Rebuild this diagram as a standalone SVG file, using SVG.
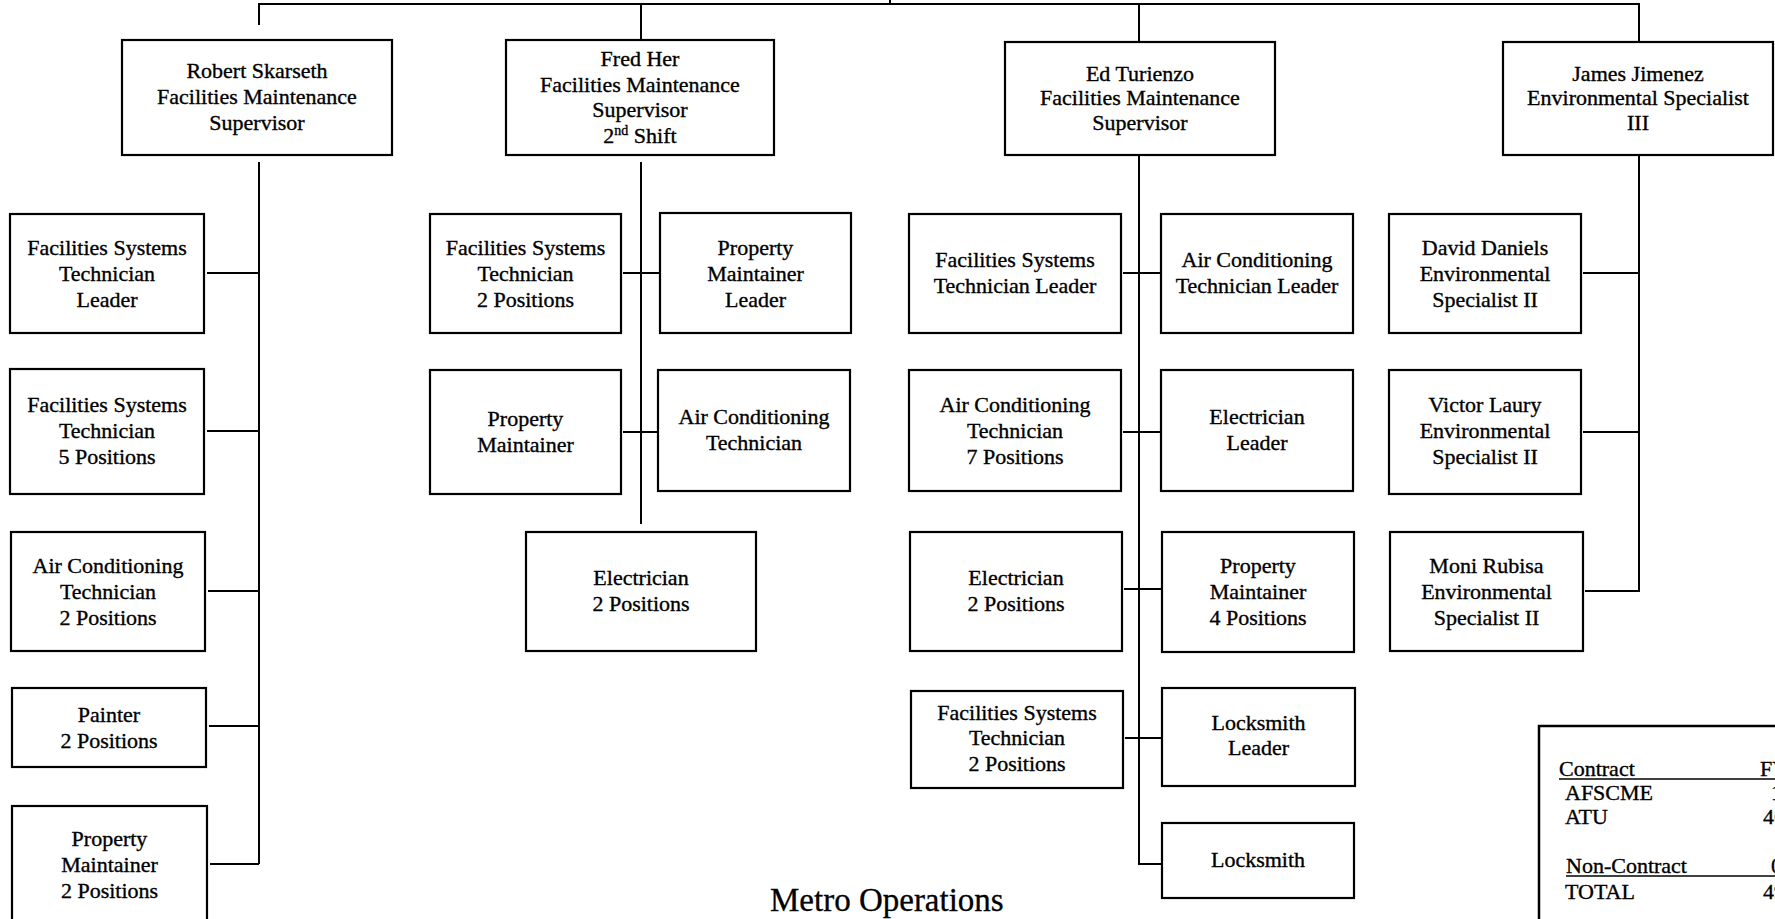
<svg xmlns="http://www.w3.org/2000/svg" width="1775" height="919" viewBox="0 0 1775 919">
<style>
.bx{fill:#fff;stroke:#000;stroke-width:2.2}
.t{font-family:"Liberation Serif","Times New Roman",serif;font-size:22px;fill:#000;stroke:#000;stroke-width:0.35;text-anchor:middle}
.lg{font-family:"Liberation Serif","Times New Roman",serif;font-size:22px;fill:#000;stroke:#000;stroke-width:0.35}
.c{fill:none;stroke:#000;stroke-width:2}
</style>
<rect width="1775" height="919" fill="#fff"/>
<g id="connectors">
<path class="c" d="M259 25 V4 H1639 V42 M890 0 V4 M641 4 V40 M1139 4 V42"/>
<path class="c" d="M259 162 V864 M207 273 H259 M207 431 H259 M208 591 H259 M209 726 H259 M210 864 H259"/>
<path class="c" d="M641 162 V524 M623 273 H660 M623 432 H658"/>
<path class="c" d="M1139 146 V864 H1162 M1123 273 H1161 M1123 432 H1161 M1124 589 H1162 M1125 738 H1162"/>
<path class="c" d="M1639 155 V591 H1585 M1583 273 H1639 M1583 432 H1639"/>
</g>
<g id="robert"><rect class="bx" x="122" y="40" width="270" height="115"/><text class="t"><tspan x="257" y="78">Robert Skarseth</tspan><tspan x="257" y="104">Facilities Maintenance</tspan><tspan x="257" y="130">Supervisor</tspan></text></g>
<g id="fred"><rect class="bx" x="506" y="40" width="268" height="115"/><text class="t"><tspan x="640" y="66">Fred Her</tspan><tspan x="640" y="92">Facilities Maintenance</tspan><tspan x="640" y="117">Supervisor</tspan><tspan x="640" y="143">2<tspan font-size="14" dy="-8">nd</tspan><tspan dy="8"> Shift</tspan></tspan></text></g>
<g id="ed"><rect class="bx" x="1005" y="42" width="270" height="113"/><text class="t"><tspan x="1140" y="81">Ed Turienzo</tspan><tspan x="1140" y="105">Facilities Maintenance</tspan><tspan x="1140" y="130">Supervisor</tspan></text></g>
<g id="james"><rect class="bx" x="1503" y="42" width="270" height="113"/><text class="t"><tspan x="1638" y="81">James Jimenez</tspan><tspan x="1638" y="105">Environmental Specialist</tspan><tspan x="1638" y="130">III</tspan></text></g>

<g id="r1"><rect class="bx" x="10" y="214" width="194" height="119"/><text class="t"><tspan x="107" y="255">Facilities Systems</tspan><tspan x="107" y="281">Technician</tspan><tspan x="107" y="307">Leader</tspan></text></g>
<g id="r2"><rect class="bx" x="10" y="369" width="194" height="125"/><text class="t"><tspan x="107" y="412">Facilities Systems</tspan><tspan x="107" y="438">Technician</tspan><tspan x="107" y="464">5 Positions</tspan></text></g>
<g id="r3"><rect class="bx" x="11" y="532" width="194" height="119"/><text class="t"><tspan x="108" y="573">Air Conditioning</tspan><tspan x="108" y="599">Technician</tspan><tspan x="108" y="625">2 Positions</tspan></text></g>
<g id="r4"><rect class="bx" x="12" y="688" width="194" height="79"/><text class="t"><tspan x="109" y="722">Painter</tspan><tspan x="109" y="748">2 Positions</tspan></text></g>
<g id="r5"><rect class="bx" x="12" y="806" width="195" height="118"/><text class="t"><tspan x="109.5" y="846">Property</tspan><tspan x="109.5" y="872">Maintainer</tspan><tspan x="109.5" y="898">2 Positions</tspan></text></g>

<g id="f1"><rect class="bx" x="430" y="214" width="191" height="119"/><text class="t"><tspan x="525.5" y="255">Facilities Systems</tspan><tspan x="525.5" y="281">Technician</tspan><tspan x="525.5" y="307">2 Positions</tspan></text></g>
<g id="f2"><rect class="bx" x="660" y="213" width="191" height="120"/><text class="t"><tspan x="755.5" y="255">Property</tspan><tspan x="755.5" y="281">Maintainer</tspan><tspan x="755.5" y="307">Leader</tspan></text></g>
<g id="f3"><rect class="bx" x="430" y="370" width="191" height="124"/><text class="t"><tspan x="525.5" y="426">Property</tspan><tspan x="525.5" y="452">Maintainer</tspan></text></g>
<g id="f4"><rect class="bx" x="658" y="370" width="192" height="121"/><text class="t"><tspan x="754" y="424">Air Conditioning</tspan><tspan x="754" y="450">Technician</tspan></text></g>
<g id="f5"><rect class="bx" x="526" y="532" width="230" height="119"/><text class="t"><tspan x="641" y="585">Electrician</tspan><tspan x="641" y="611">2 Positions</tspan></text></g>

<g id="e1"><rect class="bx" x="909" y="214" width="212" height="119"/><text class="t"><tspan x="1015" y="267">Facilities Systems</tspan><tspan x="1015" y="293">Technician Leader</tspan></text></g>
<g id="e2"><rect class="bx" x="1161" y="214" width="192" height="119"/><text class="t"><tspan x="1257" y="267">Air Conditioning</tspan><tspan x="1257" y="293">Technician Leader</tspan></text></g>
<g id="e3"><rect class="bx" x="909" y="370" width="212" height="121"/><text class="t"><tspan x="1015" y="412">Air Conditioning</tspan><tspan x="1015" y="438">Technician</tspan><tspan x="1015" y="464">7 Positions</tspan></text></g>
<g id="e4"><rect class="bx" x="1161" y="370" width="192" height="121"/><text class="t"><tspan x="1257" y="424">Electrician</tspan><tspan x="1257" y="450">Leader</tspan></text></g>
<g id="e5"><rect class="bx" x="910" y="532" width="212" height="119"/><text class="t"><tspan x="1016" y="585">Electrician</tspan><tspan x="1016" y="611">2 Positions</tspan></text></g>
<g id="e6"><rect class="bx" x="1162" y="532" width="192" height="120"/><text class="t"><tspan x="1258" y="573">Property</tspan><tspan x="1258" y="599">Maintainer</tspan><tspan x="1258" y="625">4 Positions</tspan></text></g>
<g id="e7"><rect class="bx" x="911" y="691" width="212" height="97"/><text class="t"><tspan x="1017" y="720">Facilities Systems</tspan><tspan x="1017" y="745">Technician</tspan><tspan x="1017" y="771">2 Positions</tspan></text></g>
<g id="e8"><rect class="bx" x="1162" y="688" width="193" height="98"/><text class="t"><tspan x="1258.5" y="730">Locksmith</tspan><tspan x="1258.5" y="755">Leader</tspan></text></g>
<g id="e9"><rect class="bx" x="1162" y="823" width="192" height="75"/><text class="t"><tspan x="1258" y="867">Locksmith</tspan></text></g>

<g id="j1"><rect class="bx" x="1389" y="214" width="192" height="119"/><text class="t"><tspan x="1485" y="255">David Daniels</tspan><tspan x="1485" y="281">Environmental</tspan><tspan x="1485" y="307">Specialist II</tspan></text></g>
<g id="j2"><rect class="bx" x="1389" y="370" width="192" height="124"/><text class="t"><tspan x="1485" y="412">Victor Laury</tspan><tspan x="1485" y="438">Environmental</tspan><tspan x="1485" y="464">Specialist II</tspan></text></g>
<g id="j3"><rect class="bx" x="1390" y="532" width="193" height="119"/><text class="t"><tspan x="1486.5" y="573">Moni Rubisa</tspan><tspan x="1486.5" y="599">Environmental</tspan><tspan x="1486.5" y="625">Specialist II</tspan></text></g>

<g id="legend">
<rect x="1539" y="726" width="250" height="210" fill="#fff" stroke="#000" stroke-width="2.5"/>
<line x1="1559" y1="779" x2="1775" y2="779" stroke="#000" stroke-width="1.3"/>
<line x1="1566" y1="876" x2="1775" y2="876" stroke="#000" stroke-width="1.3"/>
<text class="lg" x="1559" y="776">Contract</text>
<text class="lg" x="1760" y="776">FY</text>
<text class="lg" x="1565" y="800">AFSCME</text>
<text class="lg" x="1771" y="800">1</text>
<text class="lg" x="1565" y="824">ATU</text>
<text class="lg" x="1763" y="824">46</text>
<text class="lg" x="1566" y="873">Non-Contract</text>
<text class="lg" x="1771" y="873">0</text>
<text class="lg" x="1565" y="899">TOTAL</text>
<text class="lg" x="1763" y="899">49</text>
</g>
<g id="title"><text x="770" y="911" style="font-family:'Liberation Serif','Times New Roman',serif;font-size:33px;fill:#000;stroke:#000;stroke-width:0.3">Metro Operations</text></g>
</svg>
